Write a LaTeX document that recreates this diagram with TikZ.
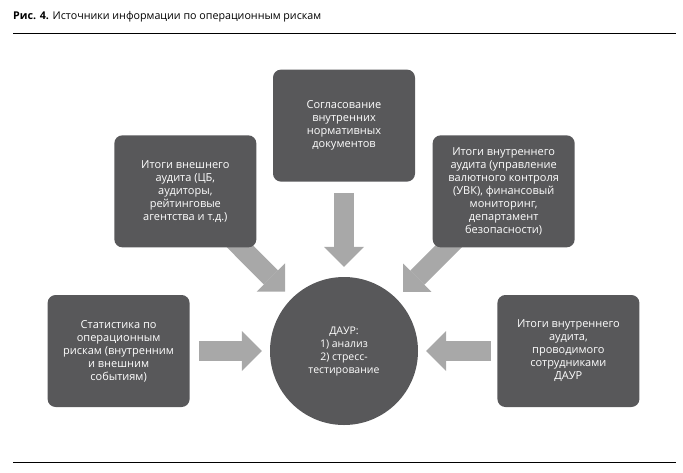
\documentclass[tikz,border=0pt]{standalone}
\usepackage{fontspec}
\setmainfont{Open Sans}
\usetikzlibrary{positioning}
\usetikzlibrary{arrows.meta}
\usetikzlibrary{backgrounds}
\definecolor{boxgray}{RGB}{88,88,90}
\definecolor{arrowgray}{RGB}{168,168,168}
\tikzset{srcbox/.style={rectangle,rounded corners=8pt,fill=boxgray,text=white,minimum width=142pt,minimum height=112pt,align=center,font=\fontsize{11}{13}\selectfont}}
\tikzset{feed/.style={draw=arrowgray,line width=20pt,-{Triangle[width=40pt,length=20pt,line width=0pt]}}}

\begin{document}
\begin{tikzpicture}[x=1pt, y=-1pt,
    node distance=80pt,
    rule/.style={line width=1pt},
    ]
    \useasboundingbox (0,0) rectangle (683,472);

    % Title and rules
    \node (title) [anchor=base west, inner sep=0pt, font=\fontsize{10.7}{13}\selectfont] at (13,19) {\textbf{Рис. 4.} Источники информации по операционным рискам};
    \coordinate (ruletopl) at (13,33);
    \coordinate (ruletopr) at (676,33);
    \coordinate (rulebotl) at (13,462);
    \coordinate (rulebotr) at (676,462);
    \draw [rule] (ruletopl) -- (ruletopr);
    \draw [rule] (rulebotl) -- (rulebotr);

    % Centre
    \node [circle, fill=boxgray, text=white, minimum size=148pt, inner sep=0pt, align=center, font=\fontsize{10.5}{13}\selectfont] (daur) at (344,351) {ДАУР:\\1) анализ\\2) стресс-\\тестирование};

    % Sources
    \node [srcbox, above=95pt of daur] (docs) {Согласование\\внутренних\\нормативных\\документов};
    \node [srcbox, left=80pt of daur] (stats) {Статистика по\\операционным\\рискам (внутренним\\и внешним\\событиям)};
    \node [srcbox, right=79pt of daur] (staff) {Итоги внутреннего\\аудита,\\проводимого\\сотрудниками\\ДАУР};
    \node [srcbox, above left=51pt and 35pt of daur] (extaudit) {Итоги внешнего\\аудита (ЦБ,\\аудиторы,\\рейтинговые\\агентства и т.д.)};
    \node [srcbox, above right=51pt and 36pt of daur] (intaudit) {Итоги внутреннего\\аудита (управление\\валютного контроля\\(УВК), финансовый\\мониторинг,\\департамент\\безопасности)};

    % Arrows
    \begin{scope}[on background layer]
    \draw [feed, shorten <=11pt, shorten >=10pt] (docs) -- (daur);
    \draw [feed, shorten <=9pt, shorten >=8pt] (stats) -- (daur);
    \draw [feed, shorten <=6pt, shorten >=8pt] (staff) -- (daur);
    \draw [feed, shorten >=9.5pt] (extaudit.center) -- (daur);
    \draw [feed, shorten >=9.5pt] (intaudit.center) -- (daur);
    \end{scope}

\end{tikzpicture}
\end{document}
